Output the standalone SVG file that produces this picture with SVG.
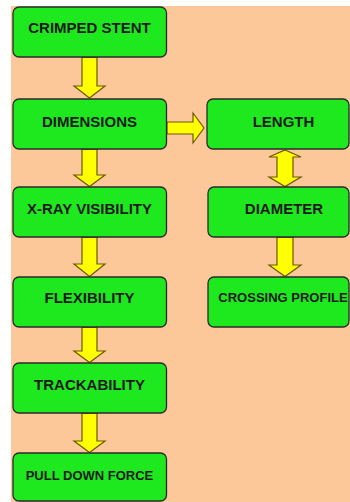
<svg xmlns="http://www.w3.org/2000/svg" width="350" height="502" viewBox="0 0 350 502">
<style>
.box{fill:#1ee81e;stroke:#2a2a2a;stroke-width:1.3}
.arr{fill:#ffff00;stroke:#6b5a00;stroke-width:1.2;stroke-linejoin:miter}
.t{font-family:"Liberation Sans",Arial,sans-serif;font-weight:bold;font-size:15px;fill:#1a1a1a;text-anchor:middle}
.s{font-size:13px}
</style>
<rect x="0" y="0" width="350" height="502" fill="#ffffff"/>
<rect x="11" y="6" width="339" height="496" fill="#fcc899"/>
<g id="connectors">
<polygon class="arr" points="82,57.5 97,57.5 97,86 105,86 89.5,98 74,86 82,86"/>
<polygon class="arr" points="82,149.5 97,149.5 97,175 105,175 89.5,186.5 74,175 82,175"/>
<polygon class="arr" points="82,237.5 97,237.5 97,264 105,264 89.5,276.5 74,264 82,264"/>
<polygon class="arr" points="82,327.5 97,327.5 97,351 105,351 89.5,362.5 74,351 82,351"/>
<polygon class="arr" points="82,413.5 97,413.5 97,441 105,441 89.5,452.5 74,441 82,441"/>
<polygon class="arr" points="167,122 193,122 193,113 204,128 193,143 193,134 167,134"/>
<polygon class="arr" points="285,150 301,157 293,157 293,177 301,177 285,186.5 269,177 277,177 277,157 269,157"/>
<polygon class="arr" points="277,237.5 293,237.5 293,265 301,265 285,276.5 269,265 277,265"/>
</g>
<g id="crimped-stent"><rect class="box" x="13" y="7" width="153.5" height="50" rx="6"/><text class="t" x="89.5" y="33">CRIMPED STENT</text></g>
<g id="dimensions"><rect class="box" x="13" y="99" width="153.5" height="50" rx="6"/><text class="t" x="89.5" y="126.5">DIMENSIONS</text></g>
<g id="xray"><rect class="box" x="13" y="187" width="153.5" height="50" rx="6"/><text class="t" x="89.5" y="214">X-RAY VISIBILITY</text></g>
<g id="flexibility"><rect class="box" x="13" y="277" width="153.5" height="50" rx="6"/><text class="t" x="89.5" y="303">FLEXIBILITY</text></g>
<g id="trackability"><rect class="box" x="13" y="363" width="153.5" height="50" rx="6"/><text class="t" x="89.5" y="390">TRACKABILITY</text></g>
<g id="pull-down-force"><rect class="box" x="13" y="453" width="153.5" height="48" rx="6"/><text class="t s" x="89.5" y="480">PULL DOWN FORCE</text></g>
<g id="length"><rect class="box" x="207" y="99" width="142" height="50" rx="6"/><text class="t" x="283.5" y="127">LENGTH</text></g>
<g id="diameter"><rect class="box" x="208" y="187" width="141" height="50" rx="6"/><text class="t" x="284" y="214">DIAMETER</text></g>
<g id="crossing-profile"><rect class="box" x="208" y="277" width="141" height="50" rx="6"/><text class="t s" x="283" y="302">CROSSING PROFILE</text></g>
</svg>
